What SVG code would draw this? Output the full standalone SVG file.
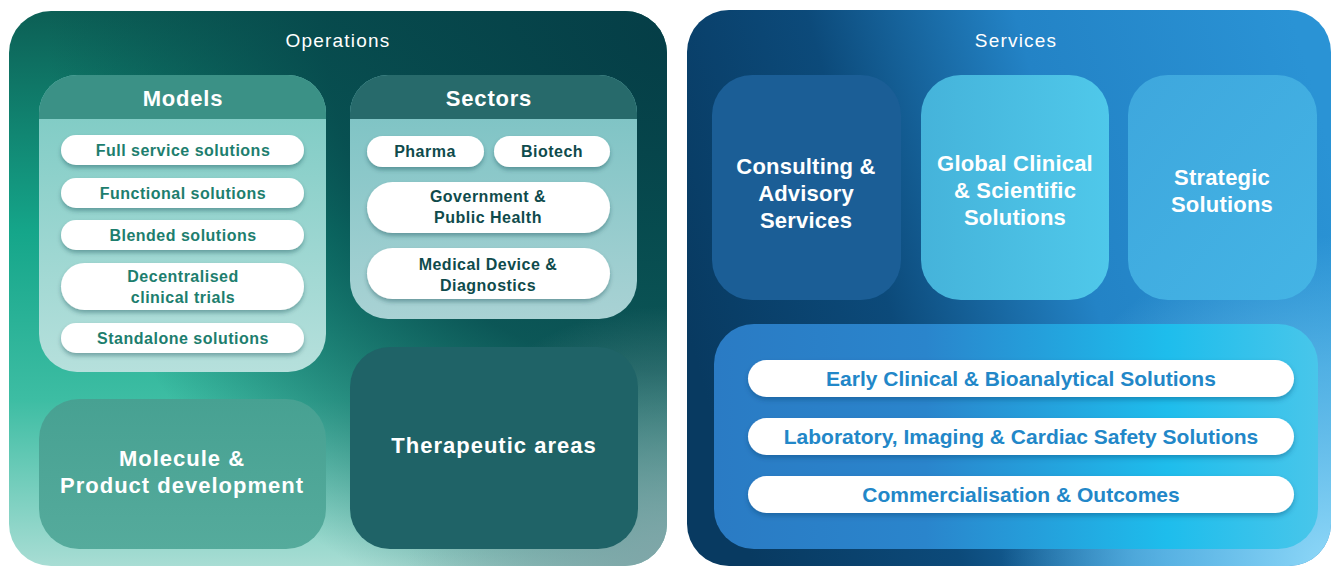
<svg xmlns="http://www.w3.org/2000/svg" width="1331" height="567" viewBox="0 0 1331 567">
<defs>
<linearGradient id="gOpsBase" x1="0" y1="0" x2="0" y2="1">
<stop offset="0" stop-color="#0c5f55"/>
<stop offset="0.4" stop-color="#15a68a"/>
<stop offset="0.7" stop-color="#3dbda3"/>
<stop offset="1" stop-color="#a8ddd4"/>
</linearGradient>
<radialGradient id="gOpsDark" cx="667" cy="30" r="620" gradientUnits="userSpaceOnUse">
<stop offset="0" stop-color="#053e47" stop-opacity="1"/>
<stop offset="0.55" stop-color="#06464b" stop-opacity="0.85"/>
<stop offset="1" stop-color="#06464b" stop-opacity="0"/>
</radialGradient>
<radialGradient id="gOpsGrey" cx="667" cy="566" r="260" gradientUnits="userSpaceOnUse">
<stop offset="0" stop-color="#7fa6a8" stop-opacity="1"/>
<stop offset="1" stop-color="#7fa6a8" stop-opacity="0"/>
</radialGradient>
<linearGradient id="gSrvBase" x1="687" y1="330" x2="1331" y2="150" gradientUnits="userSpaceOnUse">
<stop offset="0" stop-color="#083a61"/>
<stop offset="0.3" stop-color="#0c4a7a"/>
<stop offset="0.6" stop-color="#2383c6"/>
<stop offset="1" stop-color="#2a93d5"/>
</linearGradient>
<radialGradient id="gSrvLight" cx="1331" cy="566" r="330" gradientUnits="userSpaceOnUse">
<stop offset="0" stop-color="#8fd8f8" stop-opacity="1"/>
<stop offset="0.6" stop-color="#6cc6f0" stop-opacity="0.6"/>
<stop offset="1" stop-color="#6cc6f0" stop-opacity="0"/>
</radialGradient>
<linearGradient id="gModelsBody" x1="0" y1="0" x2="0" y2="1">
<stop offset="0" stop-color="#79c9c2"/>
<stop offset="1" stop-color="#b6e0dc"/>
</linearGradient>
<linearGradient id="gSectorsBody" x1="0" y1="0" x2="0" y2="1">
<stop offset="0" stop-color="#77c1c2"/>
<stop offset="1" stop-color="#a9d2d4"/>
</linearGradient>
<linearGradient id="gMolecule" x1="0" y1="0" x2="0" y2="1">
<stop offset="0" stop-color="#47a192"/>
<stop offset="1" stop-color="#55ab9c"/>
</linearGradient>
<linearGradient id="gGlobal" x1="0" y1="0" x2="1" y2="0">
<stop offset="0" stop-color="#45b3da"/>
<stop offset="1" stop-color="#4fc8ea"/>
</linearGradient>
<linearGradient id="gStrategic" x1="0" y1="0" x2="1" y2="1">
<stop offset="0" stop-color="#3ea7dd"/>
<stop offset="1" stop-color="#44b4e5"/>
</linearGradient>
<linearGradient id="gBottom" x1="714" y1="0" x2="1318" y2="0" gradientUnits="userSpaceOnUse">
<stop offset="0" stop-color="#2a7bc4"/>
<stop offset="0.35" stop-color="#2a85cc"/>
<stop offset="0.75" stop-color="#1ebdec"/>
<stop offset="1" stop-color="#48c6ea"/>
</linearGradient>
<filter id="shadow" x="-10%" y="-30%" width="120%" height="170%">
<feDropShadow dx="0" dy="3" stdDeviation="2" flood-color="#0a3a40" flood-opacity="0.35"/>
</filter>
<filter id="shadowB" x="-10%" y="-30%" width="120%" height="170%">
<feDropShadow dx="0" dy="3" stdDeviation="2.5" flood-color="#0a3a66" flood-opacity="0.35"/>
</filter>
</defs>
<style>
text{font-family:"Liberation Sans",Arial,sans-serif;text-anchor:middle}
.ttl{font-size:19px;fill:#ffffff;letter-spacing:1.2px}
.hdr{font-size:22px;font-weight:bold;fill:#ffffff;letter-spacing:0.8px}
.big{font-size:22px;font-weight:bold;fill:#ffffff;letter-spacing:1px}
.srv{font-size:22px;font-weight:bold;fill:#ffffff;letter-spacing:0.2px}
.pill{fill:#ffffff}
.mt{font-size:16px;font-weight:bold;fill:#1d7e6e;letter-spacing:0.5px}
.st{font-size:16px;font-weight:bold;fill:#0f4b4c;letter-spacing:0.5px}
.bt{font-size:21px;font-weight:bold;fill:#2287c8}
</style>

<g id="operations">
<rect x="9" y="11" width="658" height="555" rx="42" fill="url(#gOpsBase)"/>
<rect x="9" y="11" width="658" height="555" rx="42" fill="url(#gOpsDark)"/>
<rect x="9" y="11" width="658" height="555" rx="42" fill="url(#gOpsGrey)"/>
<text class="ttl" x="338" y="47">Operations</text>
</g>

<g id="models">
<rect x="39" y="75" width="287" height="297" rx="38" fill="url(#gModelsBody)"/>
<path d="M39,119 V113 A38,38 0 0 1 77,75 H288 A38,38 0 0 1 326,113 V119 Z" fill="#3b9186"/>
<text class="hdr" x="183" y="106">Models</text>
</g>
<g id="full-service">
<rect class="pill" x="61" y="135" width="243" height="30" rx="15" filter="url(#shadow)"/>
<text class="mt" x="183" y="156">Full service solutions</text>
</g>
<g id="functional">
<rect class="pill" x="61" y="178" width="243" height="30" rx="15" filter="url(#shadow)"/>
<text class="mt" x="183" y="199">Functional solutions</text>
</g>
<g id="blended">
<rect class="pill" x="61" y="220" width="243" height="30" rx="15" filter="url(#shadow)"/>
<text class="mt" x="183" y="241">Blended solutions</text>
</g>
<g id="decentralised">
<rect class="pill" x="61" y="263" width="243" height="47" rx="23.5" filter="url(#shadow)"/>
<text class="mt" x="183" y="282">Decentralised</text>
<text class="mt" x="183" y="303">clinical trials</text>
</g>
<g id="standalone">
<rect class="pill" x="61" y="323" width="243" height="30" rx="15" filter="url(#shadow)"/>
<text class="mt" x="183" y="344">Standalone solutions</text>
</g>

<g id="sectors">
<rect x="350" y="75" width="287" height="244" rx="38" fill="url(#gSectorsBody)"/>
<path d="M350,119 V113 A38,38 0 0 1 388,75 H599 A38,38 0 0 1 637,113 V119 Z" fill="#276a6b"/>
<text class="hdr" x="489" y="106">Sectors</text>
</g>
<g id="pharma">
<rect class="pill" x="367" y="136" width="117" height="31" rx="15.5" filter="url(#shadow)"/>
<text class="st" x="425" y="157">Pharma</text>
</g>
<g id="biotech">
<rect class="pill" x="494" y="136" width="116" height="31" rx="15.5" filter="url(#shadow)"/>
<text class="st" x="552" y="157">Biotech</text>
</g>
<g id="government">
<rect class="pill" x="367" y="182" width="243" height="51" rx="25.5" filter="url(#shadow)"/>
<text class="st" x="488" y="202">Government &amp;</text>
<text class="st" x="488" y="223">Public Health</text>
</g>
<g id="medical">
<rect class="pill" x="367" y="248" width="243" height="51" rx="25.5" filter="url(#shadow)"/>
<text class="st" x="488" y="270">Medical Device &amp;</text>
<text class="st" x="488" y="291">Diagnostics</text>
</g>

<g id="molecule">
<rect x="39" y="399" width="287" height="150" rx="40" fill="url(#gMolecule)"/>
<text class="big" x="182" y="466">Molecule &amp;</text>
<text class="big" x="182" y="493">Product development</text>
</g>

<g id="therapeutic">
<rect x="350" y="347" width="288" height="202" rx="40" fill="#1f6367"/>
<text class="big" x="494" y="453">Therapeutic areas</text>
</g>

<g id="services">
<rect x="687" y="10" width="644" height="556" rx="42" fill="url(#gSrvBase)"/>
<rect x="687" y="10" width="644" height="556" rx="42" fill="url(#gSrvLight)"/>
<text class="ttl" x="1016" y="47">Services</text>
</g>

<g id="consulting">
<rect x="712" y="75" width="189" height="225" rx="40" fill="#1b5e96"/>
<text class="srv" x="806" y="174">Consulting &amp;</text>
<text class="srv" x="806" y="201">Advisory</text>
<text class="srv" x="806" y="228">Services</text>
</g>
<g id="global">
<rect x="921" y="75" width="188" height="225" rx="40" fill="url(#gGlobal)"/>
<text class="srv" x="1015" y="171">Global Clinical</text>
<text class="srv" x="1015" y="198">&amp; Scientific</text>
<text class="srv" x="1015" y="225">Solutions</text>
</g>
<g id="strategic">
<rect x="1128" y="75" width="189" height="225" rx="40" fill="url(#gStrategic)"/>
<text class="srv" x="1222" y="185">Strategic</text>
<text class="srv" x="1222" y="212">Solutions</text>
</g>

<g id="bottom-panel">
<rect x="714" y="324" width="604" height="225" rx="40" fill="url(#gBottom)"/>
</g>
<g id="early-clinical">
<rect class="pill" x="748" y="360" width="546" height="37" rx="18.5" filter="url(#shadowB)"/>
<text class="bt" x="1021" y="386">Early Clinical &amp; Bioanalytical Solutions</text>
</g>
<g id="laboratory">
<rect class="pill" x="748" y="418" width="546" height="37" rx="18.5" filter="url(#shadowB)"/>
<text class="bt" x="1021" y="444">Laboratory, Imaging &amp; Cardiac Safety Solutions</text>
</g>
<g id="commercialisation">
<rect class="pill" x="748" y="476" width="546" height="37" rx="18.5" filter="url(#shadowB)"/>
<text class="bt" x="1021" y="502">Commercialisation &amp; Outcomes</text>
</g>

<g id="connectors"></g>
</svg>
